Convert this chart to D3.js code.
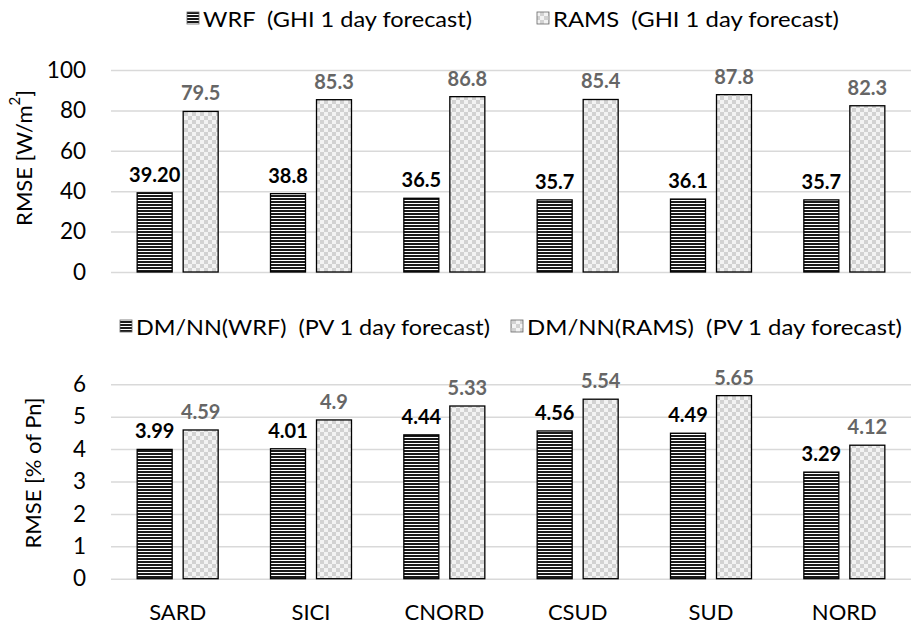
<!DOCTYPE html>
<html>
<head>
<meta charset="utf-8">
<script src="https://cdn.jsdelivr.net/npm/d3@7/dist/d3.min.js"></script>
<style>
  html, body { margin: 0; padding: 0; background: #fff; }
  svg { display: block; font-family: Lato, "Open Sans", sans-serif; }
</style>
</head>
<body>
<svg id="chart" width="912" height="628"></svg>
<script>
// Regions
const regions = ["SARD", "SICI", "CNORD", "CSUD", "SUD", "NORD"];

// GHI 1-day forecast RMSE [W/m²]
const ghiWrf = [39.2, 38.8, 36.5, 35.7, 36.1, 35.7];
const ghiWrfLabels = ["39.20", "38.8", "36.5", "35.7", "36.1", "35.7"];
const ghiRams = [79.5, 85.3, 86.8, 85.4, 87.8, 82.3];
const ghiRamsLabels = ["79.5", "85.3", "86.8", "85.4", "87.8", "82.3"];
const ghiTicks = [0, 20, 40, 60, 80, 100];

// PV 1-day forecast RMSE [% of Pn]
const pvWrf = [3.99, 4.01, 4.44, 4.56, 4.49, 3.29];
const pvWrfLabels = ["3.99", "4.01", "4.44", "4.56", "4.49", "3.29"];
const pvRams = [4.59, 4.9, 5.33, 5.54, 5.65, 4.12];
const pvRamsLabels = ["4.59", "4.9", "5.33", "5.54", "5.65", "4.12"];
const pvTicks = [0, 1, 2, 3, 4, 5, 6];

const svg = d3.select("#chart");

// Fill patterns: dense horizontal hatching and a light checkerboard
const defs = svg.append("defs");
const stripes = defs.append("pattern")
  .attr("id", "stripes").attr("patternUnits", "userSpaceOnUse")
  .attr("width", 8).attr("height", 3);
stripes.append("rect").attr("width", 8).attr("height", 3).attr("fill", "#fff");
stripes.append("rect").attr("width", 8).attr("height", 2).attr("fill", "#1a1a1a");

const checker = defs.append("pattern")
  .attr("id", "checker").attr("patternUnits", "userSpaceOnUse")
  .attr("width", 8).attr("height", 8);
checker.append("rect").attr("width", 8).attr("height", 8).attr("fill", "#f3f3f3");
checker.append("rect").attr("width", 4).attr("height", 4).attr("fill", "#d2d2d2");
checker.append("rect").attr("x", 4).attr("y", 4).attr("width", 4).attr("height", 4).attr("fill", "#d2d2d2");

const plotLeft = 111, plotRight = 911;
const x0 = d3.scaleBand().domain(regions).range([plotLeft, plotRight]);
const barW = 35, barGap = 11;

function panel(cfg) {
  const y = d3.scaleLinear().domain([0, cfg.max]).range([cfg.bottom, cfg.top]);
  const g = svg.append("g");

  // Gridlines
  g.append("g")
    .attr("transform", `translate(${plotLeft},0)`)
    .call(d3.axisLeft(y).tickValues(cfg.ticks).tickSize(-(plotRight - plotLeft)).tickFormat(""))
    .call(a => a.select(".domain").remove())
    .call(a => a.selectAll("line").attr("stroke", "#d9d9d9").attr("stroke-width", 1.5));

  // Tick labels
  g.append("g")
    .attr("transform", `translate(${plotLeft},0)`)
    .call(d3.axisLeft(y).tickValues(cfg.ticks).tickSize(0).tickPadding(25).tickFormat(d3.format("d")))
    .call(a => a.select(".domain").remove())
    .call(a => a.attr("font-size", null).attr("font-family", null))
    .call(a => a.selectAll("text").attr("font-size", 22.5).attr("fill", "#000"));

  // Y title
  g.append("text")
    .attr("transform", `translate(${cfg.titleX},${cfg.titleY}) rotate(-90)`)
    .attr("text-anchor", "middle").attr("dominant-baseline", "central")
    .attr("font-size", 22).attr("fill", "#000")
    .call(t => cfg.title(t));

  const series = [
    { vals: cfg.a, labels: cfg.aLab, fill: "url(#stripes)", color: "#000", off: -(barW + barGap) / 2 },
    { vals: cfg.b, labels: cfg.bLab, fill: "url(#checker)", color: "#666", off: (barW + barGap) / 2 }
  ];
  series.forEach(s => {
    const cx = i => x0(regions[i]) + x0.bandwidth() / 2 + s.off;
    g.append("g").selectAll("rect").data(s.vals).join("rect")
      .attr("x", (d, i) => cx(i) - barW / 2)
      .attr("y", d => y(d))
      .attr("width", barW)
      .attr("height", d => cfg.bottom - y(d))
      .attr("fill", s.fill)
      .attr("stroke", "#000").attr("stroke-width", 1.3);
    g.append("g").selectAll("text").data(s.vals).join("text")
      .attr("x", (d, i) => cx(i))
      .attr("y", d => y(d) - 11)
      .attr("text-anchor", "middle")
      .attr("font-size", 20).attr("font-weight", "bold")
      .attr("fill", s.color)
      .text((d, i) => s.labels[i]);
  });
  return y;
}

panel({
  top: 70, bottom: 272, max: 100, ticks: ghiTicks,
  a: ghiWrf, aLab: ghiWrfLabels, b: ghiRams, bLab: ghiRamsLabels,
  titleX: 23, titleY: 158,
  title: t => {
    t.append("tspan").text("RMSE [W/m");
    t.append("tspan").attr("font-size", 15).attr("dy", -9).text("2");
    t.append("tspan").attr("dy", 9).text("]");
  }
});

panel({
  top: 384.3, bottom: 578.7, max: 6, ticks: pvTicks,
  a: pvWrf, aLab: pvWrfLabels, b: pvRams, bLab: pvRamsLabels,
  titleX: 32, titleY: 473,
  title: t => t.text("RMSE [% of Pn]")
});

// Category labels
svg.append("g").selectAll("text").data(regions).join("text")
  .attr("x", d => x0(d) + x0.bandwidth() / 2)
  .attr("y", 620)
  .attr("text-anchor", "middle")
  .attr("font-size", 22).attr("fill", "#000")
  .text(d => d);

// Legends
function legend(items, yc) {
  items.forEach(it => {
    svg.append("rect").attr("x", it.x).attr("y", yc - 6).attr("width", 12).attr("height", 12)
      .attr("fill", it.fill).attr("stroke", "#666").attr("stroke-width", 0.8);
    svg.append("text").attr("x", it.x + 16).attr("y", yc).attr("dominant-baseline", "central")
      .attr("font-size", 22).attr("fill", "#000")
      .attr("textLength", it.w).attr("lengthAdjust", "spacingAndGlyphs")
      .style("white-space", "pre")
      .text(it.text);
  });
}
legend([
  { x: 187, w: 269, fill: "url(#stripes)", text: "WRF  (GHI 1 day forecast)" },
  { x: 537, w: 286, fill: "url(#checker)", text: "RAMS  (GHI 1 day forecast)" }
], 18);
legend([
  { x: 120, w: 354, fill: "url(#stripes)", text: "DM/NN(WRF)  (PV 1 day forecast)" },
  { x: 511, w: 375, fill: "url(#checker)", text: "DM/NN(RAMS)  (PV 1 day forecast)" }
], 326);
</script>
</body>
</html>
